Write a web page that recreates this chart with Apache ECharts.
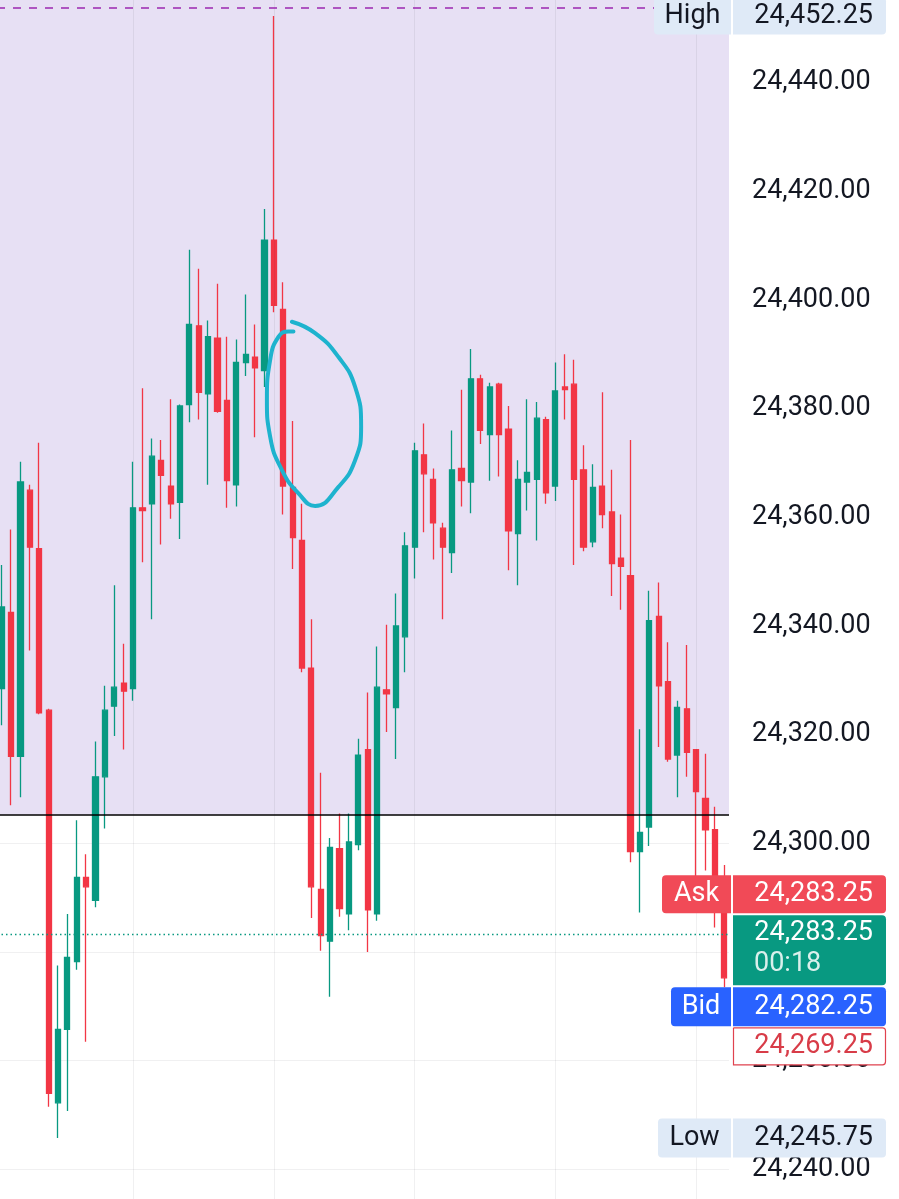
<!DOCTYPE html>
<html><head><meta charset="utf-8">
<script src="https://cdn.jsdelivr.net/npm/echarts@6/dist/echarts.min.js"></script>
<style>html,body{margin:0;padding:0;background:#fff;overflow:hidden;width:899px;height:1199px;position:relative}
#c{position:absolute;left:-3px;top:-26px;width:902px;height:1304px}</style>
</head><body><div id="c"></div>
<script>
// ---- data ----
const times = ["09:15","09:16","09:17","09:18","09:19","09:20","09:21","09:22","09:23","09:24","09:25","09:26","09:27","09:28","09:29","09:30","09:31","09:32","09:33","09:34","09:35","09:36","09:37","09:38","09:39","09:40","09:41","09:42","09:43","09:44","09:45","09:46","09:47","09:48","09:49","09:50","09:51","09:52","09:53","09:54","09:55","09:56","09:57","09:58","09:59","10:00","10:01","10:02","10:03","10:04","10:05","10:06","10:07","10:08","10:09","10:10","10:11","10:12","10:13","10:14","10:15","10:16","10:17","10:18","10:19","10:20","10:21","10:22","10:23","10:24","10:25","10:26","10:27","10:28","10:29","10:30","10:31","10:32"];
const opens  = [24328.5,24342.5,24316,24365,24354.25,24324.5,24252.25,24265.75,24278.25,24293.75,24289.5,24312.25,24325.25,24329.5,24328.5,24361.75,24362.5,24370.5,24365.75,24362.75,24380.75,24395.25,24382.75,24393,24381.5,24366,24388.5,24389.5,24387,24411,24398.25,24365.5,24355.75,24332.25,24291.5,24282,24299,24287,24299.75,24317.25,24287,24328.25,24325,24338,24354.5,24371.5,24367,24358,24353.5,24369,24366.5,24385.5,24375.25,24384.5,24376.25,24357,24366.5,24367,24378,24365.75,24384,24384.5,24368.75,24355.5,24365.75,24361,24352.5,24349.25,24298.5,24303,24341.75,24329.75,24316.25,24324.75,24317.25,24308.25,24302.5,24288.5];
const closes = [24343.5,24316,24366.5,24354.5,24324,24254,24265.75,24279,24293.75,24292,24312.25,24324.5,24328.75,24328,24361.75,24361.25,24371.25,24367.75,24362.5,24380.5,24395.5,24383,24393.25,24379.5,24366.75,24388.5,24390,24387.5,24411,24399,24365.75,24356.25,24332.25,24292,24283,24299.25,24288,24300.25,24316.25,24287.75,24328.75,24327.5,24340,24354.75,24372.25,24368,24359,24354.5,24368.75,24366.75,24385.5,24376,24384,24375.25,24357.5,24367,24368.25,24378.25,24364.5,24383.25,24383.5,24367,24354.5,24365.5,24360.5,24351.5,24351,24298.5,24302,24341,24329,24315.5,24325,24316.75,24309.5,24302.5,24288.5,24275.25];
const lows   = [24321.75,24307,24308.5,24335.5,24323.75,24251.5,24245.75,24250.75,24276.75,24263.5,24288.25,24302.75,24319.75,24317.25,24326.25,24351.75,24341.25,24355,24359.75,24356,24377.5,24378,24366,24379.25,24361.75,24362,24386,24374.75,24384,24397.75,24360.5,24350.5,24331.5,24286.25,24280.25,24271.75,24286.5,24284,24298.75,24280,24285.75,24320.5,24315.5,24331.5,24348.75,24357.25,24352.25,24341.25,24349.75,24362,24360.75,24373.5,24366.75,24367.5,24350.25,24347.5,24361.25,24355.75,24362.5,24363,24378,24351.25,24353.75,24354.5,24358,24345.5,24343,24296.5,24287.25,24299.5,24317.75,24315,24308.5,24312.25,24293.25,24295,24284.5,24273.5];
const highs  = [24351.25,24357.75,24370.25,24366,24373.75,24324.75,24277.5,24287,24304.25,24298,24318.75,24329,24347.5,24336.75,24370.25,24383.75,24374.5,24374.25,24381.75,24380.75,24409.25,24405.75,24396.25,24403,24393.25,24392.75,24401,24395.5,24416.75,24452.25,24403.25,24377.75,24362.5,24341.25,24313,24301,24305.5,24305.5,24319.25,24327.75,24336.25,24340.25,24346,24357.25,24373.75,24377.25,24369,24359,24376,24383.5,24391,24386.25,24384.75,24384.75,24380.5,24370.5,24381.75,24381.25,24378.5,24388.5,24390,24389,24373.25,24369.75,24383,24368.75,24360.5,24374.25,24321,24346.5,24348,24337,24326.25,24336.5,24317.25,24316.5,24306.75,24296];
const yTicks = [24240,24260,24280,24300,24320,24340,24360,24380,24400,24420,24440];
const sessionHigh = 24452.25, sessionLow = 24245.75;
const askPrice = 24283.25, lastPrice = 24283.25, bidPrice = 24282.25, orderPrice = 24269.25;
const countdown = "00:18";
const zoneBottom = 24305.25, zoneTopLine = 24453.75;
const vGridIdx = [14,29,44,59,74];
const circleIdx = [30.92,33.40,35.89,37.66,38.30,37.66,35.89,33.40,31.63,29.86,28.61,28.26,28.61,29.49,30.56,31.09];
const circleVal = [24396.0,24393.9,24389.5,24384.0,24376.7,24370.5,24365.6,24362.1,24364.4,24368.7,24374.8,24381.6,24389.0,24393.2,24394.2,24394.2];

// ---- chart ----
const fmt = v => Number(v).toLocaleString('en-US',{minimumFractionDigits:2,maximumFractionDigits:2});
const GRID = 'rgba(42,46,57,0.07)';
const chart = echarts.init(document.getElementById('c'), null, {renderer:'canvas'});
const candles = opens.map((o,i)=>[o, closes[i], lows[i], highs[i]]);
chart.setOption({
  animation:false,
  backgroundColor:'#ffffff',
  grid:{left:0, right:170, top:0, bottom:0, containLabel:false},
  xAxis:[
    {type:'category', data:times, boundaryGap:true, axisLine:{show:false}, axisTick:{show:false}, axisLabel:{show:false}, splitLine:{show:false}},
    {type:'value', min:-0.5, max:77.5, show:false}
  ],
  yAxis:{type:'value', position:'right', min:24220, max:24460, interval:20, z:1,
    axisLine:{show:false}, axisTick:{show:false},
    splitLine:{show:true, lineStyle:{color:GRID, width:1}},
    axisLabel:{show:true, margin:23, color:'#131722', fontSize:27, fontFamily:'Roboto',
      formatter:v=> yTicks.includes(v) ? fmt(v) : ''}
  },
  series:[
    {type:'line', xAxisIndex:1, data:[], z:0, silent:true,
      markArea:{silent:true, itemStyle:{color:'#E7E0F4'}, data:[[{yAxis:zoneBottom},{yAxis:24460}]]}},
    {type:'line', xAxisIndex:1, data:[], z:1.5, silent:true,
      markLine:{silent:true, symbol:['none','none'], label:{show:false},
        data:[
          ...vGridIdx.map(i=>({xAxis:i, lineStyle:{color:GRID, width:1, type:'solid'}})),
          {yAxis:zoneTopLine, lineStyle:{color:'#9C27B0', width:1.5, type:[8,8]}},
          {yAxis:zoneBottom, lineStyle:{color:'#000000', width:1.6, type:'solid'}},
          {yAxis:lastPrice, lineStyle:{color:'#089981', width:1.4, type:[1.5,3]}}
        ]}},
    {type:'candlestick', data:candles, barWidth:5.6, z:3, silent:true,
      itemStyle:{color:'#089981', color0:'#F23645', borderColor:'#089981', borderColor0:'#F23645', borderWidth:1.3}},
    {type:'line', xAxisIndex:1, data:circleIdx.map((x,i)=>[x,circleVal[i]]), smooth:0.5, showSymbol:false, z:5, silent:true,
      lineStyle:{color:'#1EB3CE', width:4, cap:'round', join:'round'}}
  ]
});

// ---- price boxes on the price scale (x in page pixels, shifted by the container offset) ----
const DX = 3;
const py = v => chart.convertToPixel({yAxisIndex:0}, v);
const FONT = 'Roboto';
const els = [];
function rect(x,y,w,h,fill,r,stroke){ els.push({type:'rect', z:100, shape:{x:x+DX,y,width:w,height:h,r}, style:{fill, stroke:stroke||null, lineWidth:stroke?1.2:0}}); }
function txt(x,y,t,fill,align,size){ els.push({type:'text', z:101, x:x+DX, y, style:{text:t, fill, fontSize:size||27, fontFamily:FONT, align, verticalAlign:'middle'}}); }
const VX = 733, VW = 153, TX = 873;
// High
let yh = py(sessionHigh);
rect(654, yh-18.5, 77, 37, '#DFEAF7', [4,0,0,4]); txt(692.5, yh, 'High', '#131722', 'center');
rect(VX, yh-18.5, VW, 37, '#DFEAF7', [0,4,4,0]); txt(TX, yh, fmt(sessionHigh), '#131722', 'right');
// Low
let yl = py(sessionLow);
rect(658, yl-19.5, 73, 39, '#DFEAF7', [4,0,0,4]); txt(694.5, yl, 'Low', '#131722', 'center');
rect(VX, yl-19.5, VW, 39, '#DFEAF7', [0,4,4,0]); txt(TX, yl, fmt(sessionLow), '#131722', 'right');
// stack around the last price
let yc = py(lastPrice);
rect(662, yc-59, 69, 38, '#F14A57', [4,0,0,4]); txt(696.5, yc-40, 'Ask', '#ffffff', 'center');
rect(VX, yc-59, VW, 38, '#F14A57', [0,4,4,0]); txt(TX, yc-40, fmt(askPrice), '#ffffff', 'right');
rect(VX, yc-19, VW, 70, '#089981', [0,4,4,0]); txt(TX, yc-1, fmt(lastPrice), '#ffffff', 'right'); txt(754, yc+30, countdown, 'rgba(255,255,255,0.85)', 'left');
rect(671, yc+53, 60, 39, '#2962FF', [4,0,0,4]); txt(701, yc+72.5, 'Bid', '#ffffff', 'center');
rect(VX, yc+53, VW, 39, '#2962FF', [0,4,4,0]); txt(TX, yc+72.5, fmt(bidPrice), '#ffffff', 'right');
rect(VX+0.5, yc+93.5, VW-1, 37, '#ffffff', [0,3,3,0], '#E0424F'); txt(TX, yc+112, fmt(orderPrice), '#D83C48', 'right');
chart.setOption({graphic:els});
</script></body></html>
